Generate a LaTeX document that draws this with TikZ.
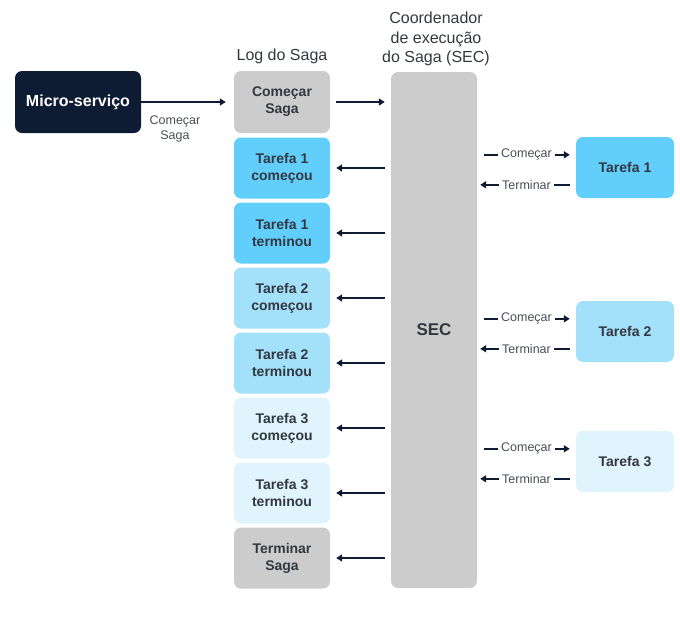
\documentclass[tikz,border=0pt]{standalone}
\usepackage{fontspec}
\setmainfont{Liberation Sans}
\usetikzlibrary{arrows.meta}
\definecolor{navy}{HTML}{0D1B33}
\definecolor{txt}{HTML}{333840}
\definecolor{lbl}{HTML}{4A4F57}
\definecolor{grayb}{HTML}{CCCCCC}
\definecolor{blueA}{HTML}{62CEFC}
\definecolor{blueB}{HTML}{A3E1FB}
\definecolor{blueC}{HTML}{E0F4FD}
\begin{document}
\begin{tikzpicture}[x=1pt,y=-1pt,
  box/.style={rounded corners=7pt, minimum width=96pt, minimum height=61pt, align=center,
    font=\bfseries\fontsize{14}{17}\selectfont, text=txt, inner sep=0pt},
  tbox/.style={box, minimum width=98pt},
  arr/.style={draw=navy, line width=1.5pt, -{Triangle[length=6pt,width=7pt]}},
  lab/.style={fill=white, inner sep=3pt, font=\fontsize{12.5}{15}\selectfont, text=lbl},
  ttl/.style={align=center, font=\fontsize{16}{19.5}\selectfont, text=txt}]
\useasboundingbox (0,0) rectangle (680,625);

% titles
\node[ttl] (tlog) at (282,56) {Log do Saga};
\node[ttl] (tsec) at (436,39) {Coordenador\\de execução\\do Saga (SEC)};

% microservice
\node[box, fill=navy, text=white, minimum width=126pt, minimum height=62pt, font=\bfseries\fontsize{16}{19}\selectfont] (ms) at (78,102) {Micro-serviço};

% log boxes
\node[box, fill=grayb, minimum height=62pt] (l0) at (282,102) {Começar\\Saga};
\node[box, fill=blueA] (l1) at (282,168) {Tarefa 1\\começou};
\node[box, fill=blueA] (l2) at (282,233) {Tarefa 1\\terminou};
\node[box, fill=blueB] (l3) at (282,298) {Tarefa 2\\começou};
\node[box, fill=blueB] (l4) at (282,363) {Tarefa 2\\terminou};
\node[box, fill=blueC] (l5) at (282,428) {Tarefa 3\\começou};
\node[box, fill=blueC] (l6) at (282,493) {Tarefa 3\\terminou};
\node[box, fill=grayb] (l7) at (282,558) {Terminar\\Saga};

% SEC
\node[box, fill=grayb, minimum width=86pt, minimum height=516pt, font=\bfseries\fontsize{17}{20}\selectfont] (sec) at (434,330) {SEC};

% tasks
\node[tbox, fill=blueA] (t1) at (625,167.5) {Tarefa 1};
\node[tbox, fill=blueB] (t2) at (625,331.5) {Tarefa 2};
\node[tbox, fill=blueC] (t3) at (625,461.5) {Tarefa 3};

% micro -> log
\draw[arr, shorten >=8pt] (ms) -- (l0);
\node[align=center, font=\fontsize{12.5}{15}\selectfont, text=lbl] (mslab) at (175,129) {Começar\\Saga};

% log <-> SEC
\draw[arr, shorten <=6pt, shorten >=6pt] (l0.east) -- (sec.west |- l0.east);
\foreach \i in {1,...,7} {
  \draw[arr, shorten <=6pt, shorten >=6pt] (sec.west |- l\i.east) -- (l\i.east);
}

% SEC <-> tasks
\foreach \t in {1,2,3} {
  \coordinate (sc\t) at ([yshift=-18pt]t\t.north -| sec.east);
  \coordinate (tc\t) at ([yshift=-18pt]t\t.north west);
  \coordinate (st\t) at ([yshift=-48pt]t\t.north -| sec.east);
  \coordinate (tt\t) at ([yshift=-48pt]t\t.north west);
  \draw[arr, shorten <=7pt, shorten >=6pt] (sc\t) -- node[lab] {Começar} (tc\t);
  \draw[arr, shorten <=6pt, shorten >=3pt] (tt\t) -- node[lab] {Terminar} (st\t);
}
\end{tikzpicture}
\end{document}
